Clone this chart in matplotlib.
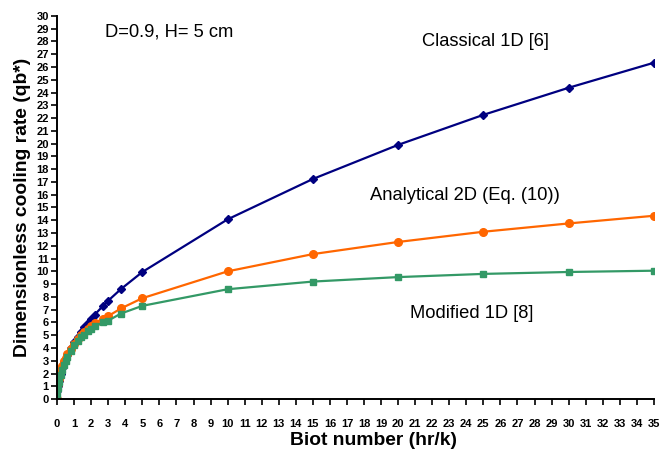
import matplotlib
matplotlib.use("Agg")
import matplotlib.pyplot as plt
from matplotlib.font_manager import FontProperties

# Biot numbers and dimensionless cooling rates
biot = [0, 0.02, 0.05, 0.1, 0.2, 0.3, 0.4, 0.5, 0.6, 0.8, 1.0, 1.2, 1.4, 1.6, 1.8,
        2.0, 2.2, 2.7, 3.0, 3.75, 5, 10, 15, 20, 25, 30, 35]
classical_1d = [0.0, 0.63, 1.0, 1.41, 1.99, 2.44, 2.81, 3.15, 3.45, 3.98, 4.45, 4.87,
                5.27, 5.63, 5.97, 6.29, 6.6, 7.31, 7.71, 8.62, 9.95, 14.07, 17.23,
                19.9, 22.25, 24.37, 26.33]
analytical_2d = [0.0, 0.8, 1.2, 1.6, 2.2, 2.6, 2.95, 3.25, 3.5, 3.95, 4.35, 4.7, 5.0,
                 5.25, 5.5, 5.75, 5.95, 6.3, 6.5, 7.1, 7.9, 10.0, 11.35, 12.3, 13.1,
                 13.75, 14.35]
modified_1d = [0.0, 0.5, 0.9, 1.3, 1.9, 2.3, 2.7, 3.0, 3.3, 3.75, 4.2, 4.55, 4.85,
               5.05, 5.3, 5.5, 5.7, 6.0, 6.15, 6.7, 7.3, 8.6, 9.2, 9.55, 9.8, 9.95,
               10.05]

tick_font = FontProperties(family=["Liberation Sans Narrow", "Liberation Sans", "DejaVu Sans"],
                           weight="bold", size=8)
lab_font = ["Liberation Sans", "DejaVu Sans"]

fig = plt.figure(figsize=(6.72, 4.53), dpi=100)
ax = fig.add_axes([0.085, 0.119, 0.888, 0.846])

ax.plot(biot, classical_1d, color="#000080", marker="D", ms=4.5, lw=1.6)
ax.plot(biot, analytical_2d, color="#FF6600", marker="o", ms=5.5, lw=1.6)
ax.plot(biot, modified_1d, color="#339966", marker="s", ms=4.5, lw=1.6)

ax.set_xlim(0, 35)
ax.set_ylim(0, 30)
ax.set_xticks(range(0, 36))
ax.set_yticks(range(0, 31))
for lab in ax.get_xticklabels() + ax.get_yticklabels():
    lab.set_fontproperties(tick_font)

ax.spines["top"].set_visible(False)
ax.spines["right"].set_visible(False)
for s in ("left", "bottom"):
    ax.spines[s].set_linewidth(1.4)
ax.tick_params(direction="out", length=4, width=1.2, pad=2)
ax.tick_params(axis="x", pad=10)

ax.set_xlabel("Biot number (hr/k)", fontsize=13.9, fontweight="bold",
              family=lab_font, labelpad=0)
ax.xaxis.set_label_coords(0.531, -0.085)
ax.set_ylabel("Dimensionless cooling rate (qb*)", fontsize=13.9,
              fontweight="bold", family=lab_font, labelpad=4)

# Curve labels and case description
ax.text(2.8, 28.7, "D=0.9, H= 5 cm", fontsize=13.2, family=lab_font, va="center")
ax.text(21.4, 28.0, "Classical 1D [6]", fontsize=13.2, family=lab_font, va="center")
ax.text(18.35, 15.9, "Analytical 2D (Eq. (10))", fontsize=13.2, family=lab_font,
        va="center")
ax.text(20.7, 6.7, "Modified 1D [8]", fontsize=13.2, family=lab_font, va="center")

fig.savefig("out.png", dpi=100)
